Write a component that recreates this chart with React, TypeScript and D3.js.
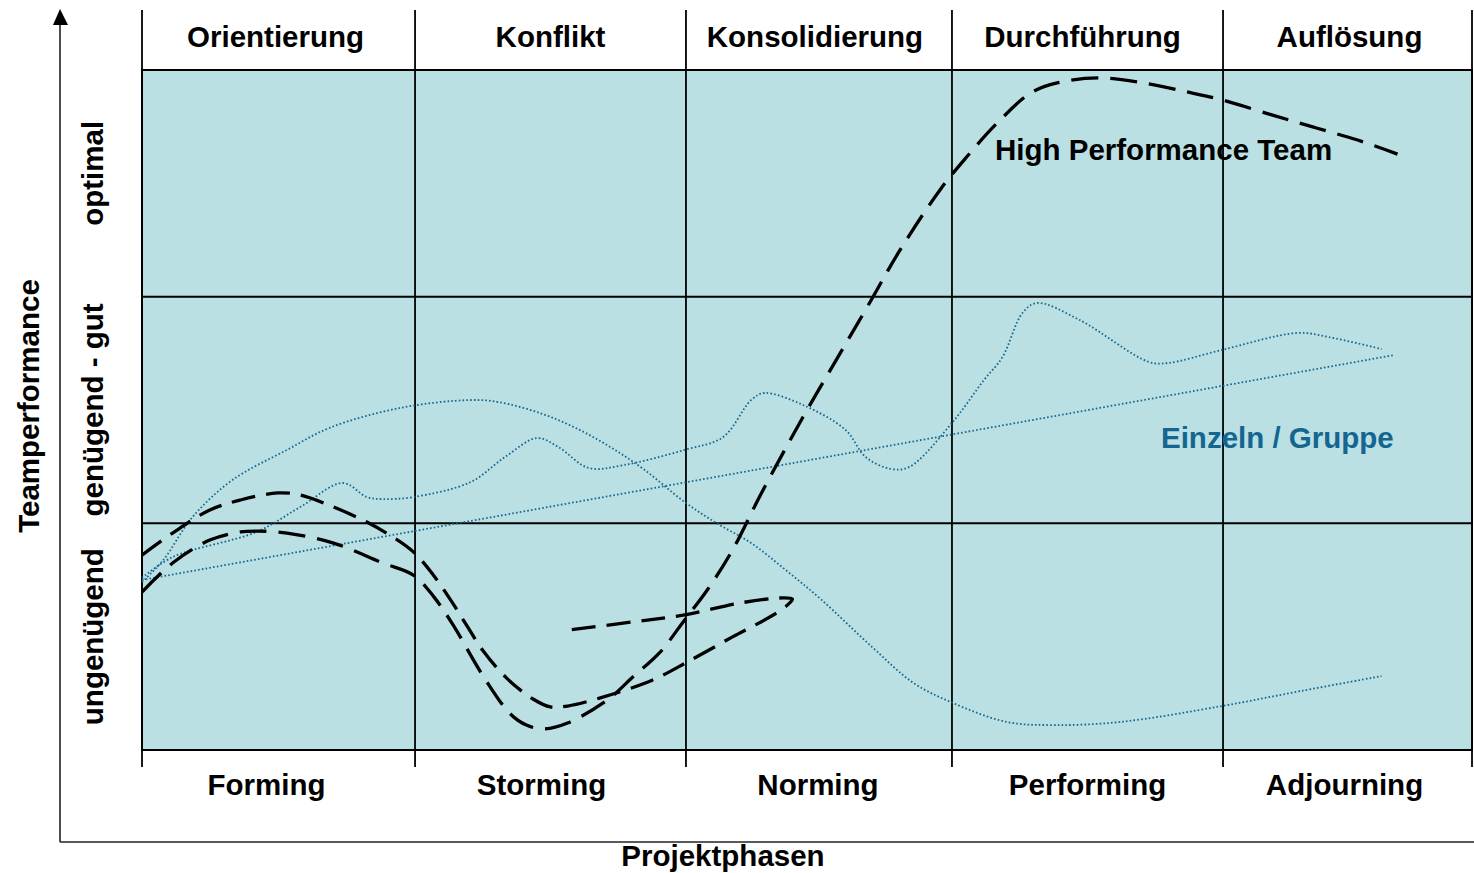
import React from "react";
import * as d3 from "d3";

// phase names, top (German) and bottom (Tuckman)
const topPhases = ["Orientierung", "Konflikt", "Konsolidierung", "Durchführung", "Auflösung"];
const bottomPhases = ["Forming", "Storming", "Norming", "Performing", "Adjourning"];
// phase edges on the project timeline (0..100)
const phaseEdges = [0, 20.53, 40.9, 60.9, 81.28, 100];
// performance bands (0..3), bottom to top
const bandLabels = ["ungenügend", "genügend - gut", "optimal"];
const bandEdges = [0, 1, 2, 3];

// [timeline, performance]
const highPerformance: [number, number][] = [
  [0, 0.697], [2.3, 0.825], [5.1, 0.926], [7.4, 0.962], [8.6, 0.966], [10.9, 0.957],
  [14.4, 0.913], [18.1, 0.825], [20.4, 0.772], [21.9, 0.679], [23.4, 0.551], [25.6, 0.331],
  [27.7, 0.159], [28.9, 0.11], [30.2, 0.093], [32.0, 0.119], [35.0, 0.221], [36.9, 0.322],
  [38.9, 0.428], [40.8, 0.574], [42.5, 0.706], [44.4, 0.882], [46.5, 1.125], [49.7, 1.469],
  [52.5, 1.751], [54.7, 1.972], [57.0, 2.206], [60.0, 2.471], [62.0, 2.616], [64.3, 2.766],
  [66.8, 2.898], [68.8, 2.943], [72.0, 2.965], [75.3, 2.943], [78.6, 2.903], [81.2, 2.868],
  [85.0, 2.801], [88.3, 2.744], [91.4, 2.691], [94.4, 2.629],
];

const regression: [number, number][] = [
  [0, 0.86], [2.3, 0.957], [5.1, 1.059], [7.4, 1.103], [10.2, 1.134], [11.9, 1.125],
  [14.4, 1.072], [16.9, 1.006], [18.6, 0.949], [20.4, 0.874], [21.9, 0.772], [23.2, 0.662],
  [24.4, 0.551], [25.6, 0.441], [27.4, 0.318], [29.4, 0.225], [30.7, 0.19], [32.0, 0.194],
  [34.4, 0.229], [38.4, 0.309], [41.0, 0.388], [44.4, 0.499], [47.7, 0.604], [48.7, 0.649],
  [48.9, 0.666], [48.2, 0.671], [45.0, 0.649], [40.8, 0.596], [36.9, 0.565], [32.0, 0.529],
];

const groupArc: [number, number][] = [
  [0, 0.741], [1.6, 0.838], [3.8, 1.028], [6.8, 1.191], [10.9, 1.324], [14.1, 1.421],
  [19.4, 1.509], [24.7, 1.544], [26.8, 1.535], [29.9, 1.487], [32.6, 1.421], [35.2, 1.337],
  [37.8, 1.235], [40.8, 1.094], [43.2, 1.001], [45.8, 0.913], [48.4, 0.794], [51.1, 0.662],
  [54.9, 0.454], [58.0, 0.296], [60.8, 0.212], [65.0, 0.124], [68.7, 0.11], [73.6, 0.124],
  [81.2, 0.194], [87.1, 0.26], [93.2, 0.326],
];

const groupWave: [number, number][] = [
  [0, 0.759], [2.3, 0.851], [8.6, 0.962], [11.9, 1.072], [15.1, 1.178], [16.9, 1.116],
  [18.1, 1.107], [20.4, 1.116], [24.7, 1.182], [27.3, 1.293], [29.7, 1.376], [31.3, 1.337],
  [33.6, 1.244], [36.2, 1.257], [40.8, 1.324], [43.7, 1.381], [45.8, 1.544], [46.8, 1.575],
  [49.7, 1.522], [52.9, 1.412], [54.4, 1.293], [56.3, 1.24], [57.7, 1.249], [60.9, 1.443],
  [63.3, 1.632], [64.7, 1.734], [66.2, 1.928], [67.3, 1.972], [70.5, 1.897], [75.7, 1.712],
  [77.1, 1.707], [81.2, 1.765], [86.9, 1.84], [89.2, 1.822], [93.2, 1.769],
];

const groupTrend: [number, number][] = [[0, 0.75], [94.2, 1.743]];

const W = 1474;
const H = 873;
const font = "'Liberation Sans', Arial, sans-serif";
const teal = "#bbe0e3";
const blue = "#146690";
const fs = 29.5;
// small nudges of the phase labels, as in the original slide
const topNudge = [-3, 0, -4, -5, 2];
const bottomNudge = [-12, -9, -1, 0, -3];

export default function App() {
  const x = d3.scaleLinear().domain([0, 100]).range([142, 1472]);
  const y = d3.scaleLinear().domain([0, 3]).range([750, 70]);

  const smooth = d3
    .line<[number, number]>()
    .x((d) => x(d[0]))
    .y((d) => y(d[1]))
    .curve(d3.curveCatmullRom.alpha(0.5));
  const straight = d3
    .line<[number, number]>()
    .x((d) => x(d[0]))
    .y((d) => y(d[1]));

  const centers = d3.pairs(phaseEdges).map(([a, b]) => x((a + b) / 2));
  const bandCenters = d3.pairs(bandEdges).map(([a, b]) => y((a + b) / 2));

  return (
    <svg
      width={W}
      height={H}
      style={{ position: "absolute", left: 0, top: 0, background: "#fff" }}
      fontFamily={font}
      fontWeight="bold"
    >
      {/* plot area */}
      <rect x={x(0)} y={y(3)} width={x(100) - x(0)} height={y(0) - y(3)} fill={teal} stroke="#000" strokeWidth={2} />
      {bandEdges.slice(1, -1).map((b) => (
        <line key={b} x1={x(0)} x2={x(100)} y1={y(b)} y2={y(b)} stroke="#000" strokeWidth={2} />
      ))}
      {phaseEdges.map((p) => (
        <line key={p} x1={x(p)} x2={x(p)} y1={10} y2={767} stroke="#000" strokeWidth={1.8} />
      ))}

      {/* axes */}
      <line x1={60} x2={60} y1={20} y2={842} stroke="#222" strokeWidth={1.6} />
      <line x1={60} x2={W} y1={842} y2={842} stroke="#222" strokeWidth={1.6} />
      <polygon points="60,9 53,25 68,25" fill="#000" />

      {/* group curves */}
      {[groupArc, groupWave].map((d, i) => (
        <path key={i} d={smooth(d) || ""} fill="none" stroke={blue} strokeWidth={1.8} strokeDasharray="1.6 2.2" />
      ))}
      <path d={straight(groupTrend) || ""} fill="none" stroke={blue} strokeWidth={1.8} strokeDasharray="1.6 2.2" />

      {/* team curves */}
      <path d={smooth(regression) || ""} fill="none" stroke="#000" strokeWidth={3.3} strokeDasharray="24 11" />
      <path d={smooth(highPerformance) || ""} fill="none" stroke="#000" strokeWidth={3.3} strokeDasharray="27 12" />

      {/* labels */}
      {topPhases.map((t, i) => (
        <text key={t} x={centers[i] + topNudge[i]} y={47} textAnchor="middle" fontSize={fs}>{t}</text>
      ))}
      {bottomPhases.map((t, i) => (
        <text key={t} x={centers[i] + bottomNudge[i]} y={795} textAnchor="middle" fontSize={fs}>{t}</text>
      ))}
      {bandLabels.map((t, i) => (
        <text key={t} transform={`translate(103,${bandCenters[i] - (i === 2 ? 10 : 0)}) rotate(-90)`} textAnchor="middle" fontSize={fs}>{t}</text>
      ))}
      <text transform="translate(39,406) rotate(-90)" textAnchor="middle" fontSize={fs}>Teamperformance</text>
      <text x={723} y={866} textAnchor="middle" fontSize={fs}>Projektphasen</text>
      <text x={995} y={160} fontSize={fs}>High Performance Team</text>
      <text x={1161} y={448} fontSize={fs} fill={blue}>Einzeln / Gruppe</text>
    </svg>
  );
}
